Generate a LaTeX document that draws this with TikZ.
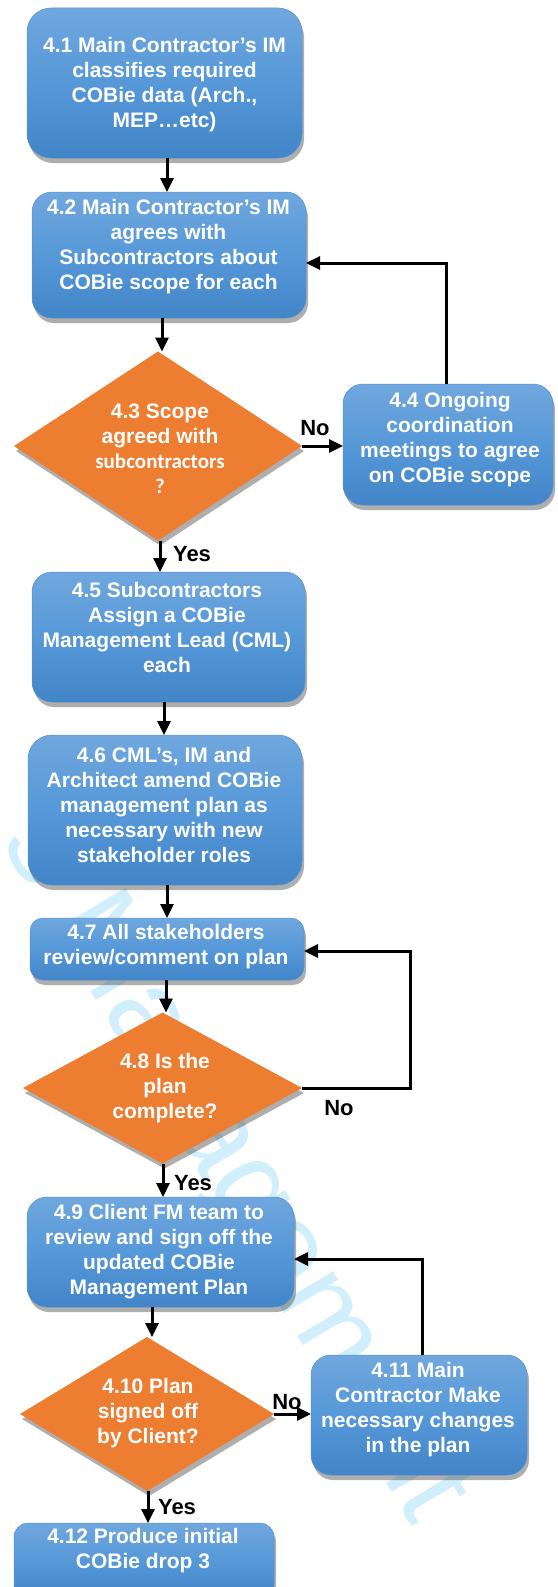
\documentclass[tikz,border=0pt]{standalone}
\usepackage{fontspec}
\setmainfont{Liberation Sans}
\newfontfamily\calib{Carlito}
\usetikzlibrary{arrows.meta,shapes.geometric,shadows,calc}
\definecolor{boxtop}{RGB}{112,167,222}
\definecolor{boxmid}{RGB}{86,152,216}
\definecolor{boxbot}{RGB}{66,133,200}
\definecolor{boxedge}{RGB}{84,145,208}
\definecolor{dia}{RGB}{237,125,49}
\definecolor{wmcol}{RGB}{208,239,251}
\begin{document}
\begin{tikzpicture}[x=1pt,y=-1pt,
  shad/.style={drop shadow={shadow xshift=2pt,shadow yshift=-5pt,opacity=0.45,fill=black!70}},
  box/.style={rectangle,rounded corners=20pt,top color=boxtop,bottom color=boxbot,middle color=boxmid,
    draw=boxedge,line width=0.5pt,inner sep=0pt,outer sep=0pt,shad},
  dmd/.style={diamond,fill=dia,inner sep=0pt,outer sep=0pt,shad},
  txt/.style={text=white,align=center,font=\fontsize{21}{25}\selectfont\bfseries,inner sep=0pt},
  lbl/.style={text=black,font=\fontsize{22}{24}\selectfont\bfseries,inner sep=0pt},
  arr/.style={line width=3pt,-{Triangle[length=14pt,width=13pt]}},
  wm/.style={text=wmcol,font=\fontsize{121}{121}\selectfont,rotate=-59,inner sep=0pt}]
\fill[white] (0,0) rectangle (557,1587);
\useasboundingbox (0,0) rectangle (557,1587);
% watermark
\node[wm] (wmk) at (232,1170) {s Management};
% boxes
\node[box,minimum width=275pt,minimum height=150pt,rounded corners=24pt] (b41) at (164.5,83) {};
\node[txt] (t41) at (164.5,84.5) {4.1 Main Contractor’s IM\\classifies required\\COBie data (Arch.,\\MEP…etc)};
\node[box,minimum width=274pt,minimum height=126pt] (b42) at (169,255) {};
\node[txt] (t42) at (168.5,246.5) {4.2 Main Contractor’s IM\\agrees with\\Subcontractors about\\COBie scope for each};
\node[dmd,minimum width=288pt,minimum height=189pt] (d43) at (158,446) {};
\node[txt] (t43) at (160,448.5) {4.3 Scope\\agreed with\\{\calib subcontractors}\\{\calib ?}};
\node[box,minimum width=210pt,minimum height=121pt] (b44) at (448,444.5) {};
\node[txt] (t44) at (450,439.5) {4.4 Ongoing\\coordination\\meetings to agree\\on COBie scope};
\node[box,minimum width=273pt,minimum height=130pt] (b45) at (168.5,637) {};
\node[txt] (t45) at (167,627.5) {4.5 Subcontractors\\Assign a COBie\\Management Lead (CML)\\each};
\node[box,minimum width=274pt,minimum height=150pt,rounded corners=24pt] (b46) at (165,810) {};
\node[txt] (t46) at (164,805) {4.6 CML’s, IM and\\Architect amend COBie\\management plan as\\necessary with new\\stakeholder roles};
\node[box,minimum width=274pt,minimum height=62pt,rounded corners=13pt] (b47) at (167,949) {};
\node[txt] (t47) at (166,946.5) {4.7 All stakeholders\\review/comment on plan};
\node[dmd,minimum width=279pt,minimum height=151pt] (d48) at (162.5,1088) {};
\node[txt] (t48) at (165,1088.5) {4.8 Is the\\plan\\complete?};
\node[box,minimum width=267pt,minimum height=110pt] (b49) at (160.5,1252) {};
\node[txt] (t49) at (159,1251.5) {4.9 Client FM team to\\review and sign off the\\updated COBie\\Management Plan};
\node[dmd,minimum width=254pt,minimum height=154pt] (d410) at (147,1414) {};
\node[txt] (t410) at (148,1413.5) {4.10 Plan\\signed off\\by Client?};
\node[box,minimum width=216pt,minimum height=120pt] (b411) at (419,1415) {};
\node[txt] (t411) at (418,1410) {4.11 Main\\Contractor Make\\necessary changes\\in the plan};
\node[box,minimum width=260pt,minimum height=76pt,rounded corners=14pt] (b412) at (144,1561) {};
\node[txt] (t412) at (143,1550.5) {4.12 Produce initial\\COBie drop 3};
% arrow x positions
\coordinate (a12) at (167,0);
\coordinate (a23) at (162,0);
\coordinate (a35) at (160,0);
\coordinate (a56) at (164,0);
\coordinate (a67) at (167,0);
\coordinate (a78) at (166,0);
\coordinate (a89) at (163,0);
\coordinate (a910) at (152,0);
\coordinate (a1012) at (148,0);
\coordinate (lp1) at (446,263);
\coordinate (lp2) at (410,951);
\coordinate (lp3) at (422,1259);
% connectors
\draw[arr] (b41.south -| a12) -- (b42.north -| a12);
\draw[arr] (b42.south -| a23) -- (d43.north -| a23);
\draw[arr] (d43.east) -- (b44.west |- d43.east);
\draw[arr] (b44.north -| lp1) -- (lp1) -- (b42.east |- lp1);
\draw[arr] (d43.south -| a35) -- (b45.north -| a35);
\draw[arr] (b45.south -| a56) -- (b46.north -| a56);
\draw[arr] (b46.south -| a67) -- (b47.north -| a67);
\draw[arr] (b47.south -| a78) -- (d48.north -| a78);
\draw[arr] (d48.east) -| (lp2) -- (b47.east |- lp2);
\draw[arr] (d48.south -| a89) -- (b49.north -| a89);
\draw[arr] (b49.south -| a910) -- (d410.north -| a910);
\draw[arr] (d410.east) -- (b411.west |- d410.east);
\draw[arr] (b411.north -| lp3) -- (lp3) -- (b49.east |- lp3);
\draw[arr] (d410.south -| a1012) -- (b412.north -| a1012);
% labels
\node[lbl] (n1) at (315,428) {No};
\node[lbl] (y1) at (192,554) {Yes};
\node[lbl] (n2) at (339,1108) {No};
\node[lbl] (y2) at (193,1183) {Yes};
\node[lbl] (n3) at (287,1402) {No};
\node[lbl] (y3) at (177,1507) {Yes};
\end{tikzpicture}
\end{document}
